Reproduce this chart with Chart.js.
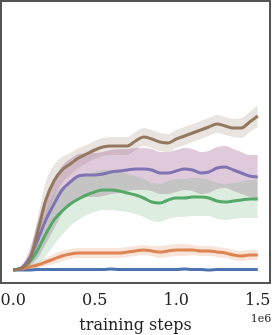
<!DOCTYPE html>
<html>
<head>
<meta charset="utf-8">
<script src="https://cdn.jsdelivr.net/npm/chart.js@4"></script>
<style>
html, body { margin: 0; padding: 0; background: #fff; }
#wrap { width: 272px; height: 335px; }
</style>
</head>
<body>
<div id="wrap"><canvas id="chart"></canvas></div>
<script>
// training steps (x 1e6)
const steps = [0,0.05,0.1,0.15,0.2,0.25,0.3,0.35,0.4,0.45,0.5,0.55,0.6,0.65,0.7,0.75,0.8,0.85,0.9,0.95,1.0,1.05,1.1,1.15,1.2,1.25,1.3,1.35,1.4,1.45,1.5];
const xTicks = [0, 0.5, 1.0, 1.5];

// mean returns per run
const blueMean   = [0,0,0,0.5,0.5,0.5,0.5,0.5,0.5,0.5,0.5,0.5,1,0.5,0.5,0.5,0.5,0.5,0.5,0.5,0.5,1,0.5,0.5,0,0.5,0.5,0.5,0.5,0.5,0.5];
const orangeMean = [0,1,3,5,8,11,14,16,17,17,17,17,17,17,18,19,20,19,18,19,20,20,20,19,19,18,17,15,14,15,15];
const greenMean  = [0,2,8,20,36,50,59,66,71,75,78,80,80,79,77,75,72,68,67,70,72,72,73,73,72,69,68,69,70,71,71];
const purpleMean = [0,2,12,30,50,66,80,88,94,95,95,96,98,99,100,101,101,100,97,97,99,101,100,97,98,102,103,100,97,94,93];
const brownMean  = [0,2,10,38,70,89,100,106,112,116,120,123,124,124,124,129,133,131,128,127,131,134,137,140,143,146,144,142,142,148,154];

// half width of the shaded band
const blueSpread   = [1,1,1,1,1,1,1,1,1,1,1,1,1,1,1,1,1,1,1,1,1,1,1,1,1,1,1,1,1,1,1];
const orangeSpread = [0,1,2,3,4,5,5,5,5,5,5,5,5,5,5,5,5,5,6,6,6,6,5,5,5,5,5,5,5,5,5];
const greenSpread  = [0,1,5,14,22,25,24,22,21,20,20,20,20,20,19,19,19,19,19,19,19,19,19,19,18,18,18,18,18,19,19];
const purpleSpread = [0,2,8,18,24,25,24,23,22,22,22,22,22,22,21,21,21,21,21,21,21,21,21,21,21,21,21,21,21,21,22];
const brownSpread  = [0,1,5,14,18,16,13,11,10,9,9,9,9,9,9,9,9,9,9,9,9,9,9,9,9,9,9,9,10,10,11];

const runs = [
  {mean: blueMean,   spread: blueSpread,   line: "#4c72b0", band: "rgba(76,114,176,0.25)"},
  {mean: orangeMean, spread: orangeSpread, line: "#dd8452", band: "rgba(221,132,82,0.22)"},
  {mean: greenMean,  spread: greenSpread,  line: "#55a868", band: "rgba(85,168,104,0.2)"},
  {mean: purpleMean, spread: purpleSpread, line: "#8172b3", band: "rgba(150,80,140,0.3)"},
  {mean: brownMean,  spread: brownSpread,  line: "#937860", band: "rgba(147,120,96,0.2)"}
];

const pts = arr => arr.map((v, i) => ({x: steps[i], y: v}));

const datasets = [];
runs.forEach((r, k) => {
  const lowIdx = datasets.length;
  datasets.push({
    data: pts(r.mean.map((m, i) => m - r.spread[i])),
    borderWidth: 0, pointRadius: 0, fill: false, order: 20
  });
  datasets.push({
    data: pts(r.mean.map((m, i) => m + r.spread[i])),
    borderWidth: 0, pointRadius: 0, fill: lowIdx,
    backgroundColor: r.band, order: 20
  });
  datasets.push({
    data: pts(r.mean),
    borderColor: r.line, borderWidth: 3, pointRadius: 0, fill: false,
    order: 10 - k
  });
});

const frame = {
  id: "frame",
  afterDraw(chart) {
    const {ctx, chartArea: a} = chart;
    ctx.save();
    ctx.strokeStyle = "#555";
    ctx.lineWidth = 2;
    ctx.strokeRect(a.left, a.top, a.right - a.left, a.bottom - a.top);
    ctx.fillStyle = "#222";
    ctx.font = "11px 'DejaVu Serif'";
    ctx.textAlign = "center";
    ctx.textBaseline = "middle";
    ctx.fillText("1e6", 261, 319);
    ctx.restore();
  }
};

new Chart(document.getElementById("chart"), {
  type: "line",
  data: {datasets},
  plugins: [frame],
  options: {
    responsive: true,
    maintainAspectRatio: false,
    animation: false,
    layout: {padding: {left: 1, top: 1, right: 2, bottom: 0}},
    elements: {line: {cubicInterpolationMode: "monotone"}},
    plugins: {legend: {display: false}, tooltip: {enabled: false}},
    scales: {
      x: {
        type: "linear",
        min: -0.075,
        max: 1.575,
        afterBuildTicks: s => { s.ticks = xTicks.map(v => ({value: v})); },
        afterFit: s => { s.height = 52; s.paddingLeft = 0; s.paddingRight = 0; },
        grid: {display: false, drawTicks: false},
        border: {display: false},
        ticks: {
          color: "#222",
          padding: 8,
          maxRotation: 0,
          font: {family: "'DejaVu Serif'", size: 16},
          callback: v => v.toFixed(1)
        },
        title: {
          display: true,
          text: "training steps",
          color: "#222",
          padding: {top: 3, bottom: 0},
          font: {family: "'DejaVu Serif'", size: 16}
        }
      },
      y: {
        display: false,
        min: -13,
        max: 269
      }
    }
  }
});
</script>
</body>
</html>
